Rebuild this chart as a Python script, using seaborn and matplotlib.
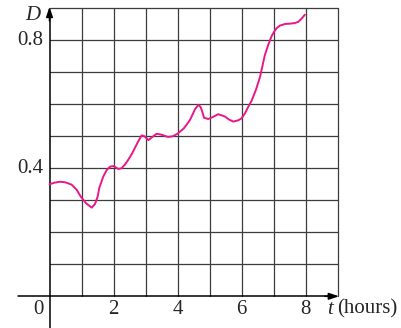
import matplotlib
matplotlib.use("Agg")
import matplotlib.pyplot as plt
import seaborn as sns
import pandas as pd

# data
t_hours = [0, 0.15, 0.33, 0.5, 0.69, 0.85, 0.98, 1.15, 1.32, 1.42, 1.5, 1.56, 1.68,
           1.79, 1.89, 2.0, 2.15, 2.25, 2.36, 2.47, 2.59, 2.75, 2.88, 2.97, 3.09,
           3.2, 3.35, 3.5, 3.7, 3.85, 4.0, 4.2, 4.39, 4.55, 4.65, 4.72, 4.78, 4.83,
           4.96, 5.1, 5.27, 5.48, 5.6, 5.74, 5.9, 6.0, 6.11, 6.21, 6.32, 6.45, 6.58,
           6.73, 6.84, 6.94, 7.04, 7.1, 7.2, 7.36, 7.52, 7.67, 7.78, 7.88, 7.98]
D_values = [0.350, 0.355, 0.358, 0.356, 0.349, 0.333, 0.311, 0.290, 0.277, 0.288,
            0.310, 0.340, 0.374, 0.395, 0.405, 0.407, 0.398, 0.400, 0.412, 0.428,
            0.448, 0.480, 0.503, 0.500, 0.488, 0.497, 0.508, 0.505, 0.498, 0.500,
            0.508, 0.525, 0.551, 0.585, 0.598, 0.592, 0.575, 0.558, 0.554, 0.560,
            0.569, 0.562, 0.553, 0.546, 0.550, 0.556, 0.572, 0.592, 0.612, 0.645,
            0.686, 0.754, 0.787, 0.813, 0.830, 0.838, 0.846, 0.851, 0.852, 0.854,
            0.858, 0.868, 0.880]
x_tick_values = [2, 4, 6, 8]
x_tick_labels = ["2", "4", "6", "8"]
y_tick_values = [0.4, 0.8]
y_tick_labels = ["0.4", "0.8"]
x_grid = [1, 2, 3, 4, 5, 6, 7, 8, 9]
y_grid = [0.1, 0.2, 0.3, 0.4, 0.5, 0.6, 0.7, 0.8, 0.9]

sns.set_style("white")
plt.rcParams['font.family'] = ['Liberation Serif', 'DejaVu Serif']

fig = plt.figure(figsize=(4.01, 3.28), dpi=100)
ax = fig.add_axes([0, 0, 1, 1])
ax.set_xlim((0 - 49.5) / 32, (401 - 49.5) / 32)
ax.set_ylim((296.3 - 328) / 320, 296.3 / 320)
ax.axis("off")

grid_col = "#3c3c3c"
for gx in x_grid:
    ax.plot([gx, gx], [0, 0.9], color=grid_col, lw=0.9, zorder=1)
for gy in y_grid:
    ax.plot([0, 9], [gy, gy], color=grid_col, lw=0.9, zorder=1)

# axes with arrows
ax.plot([-1.0, 8.9], [0, 0], color="black", lw=1.1, zorder=2)
ax.plot([0, 0], [-0.12, 0.89], color="black", lw=1.1, zorder=2)
ax.annotate("", xy=(9.05, 0), xytext=(8.6, 0),
            arrowprops=dict(arrowstyle="-|>,head_length=0.6,head_width=0.2",
                            color="black", lw=1.1, shrinkA=0, shrinkB=0))
ax.annotate("", xy=(0, 0.905), xytext=(0, 0.86),
            arrowprops=dict(arrowstyle="-|>,head_length=0.6,head_width=0.2",
                            color="black", lw=1.1, shrinkA=0, shrinkB=0))

df = pd.DataFrame({"t": t_hours, "D": D_values})
sns.lineplot(data=df, x="t", y="D", ax=ax, color="#E8178A", lw=1.4,
             sort=False, estimator=None, zorder=3,
             solid_joinstyle="round", solid_capstyle="round")
ax.axis("off")

fs = 15
for v, lab in zip(x_tick_values, x_tick_labels):
    ax.text(v, -0.04, lab, ha="center", va="center", fontsize=fs)
for v, lab in zip(y_tick_values, y_tick_labels):
    ax.text(-0.2, v, lab, ha="right", va="center", fontsize=fs)
ax.text(-0.36, -0.04, "0", ha="center", va="center", fontsize=fs)
ax.text(-0.52, 0.878, "D", ha="center", va="center", fontsize=fs, style="italic")
ax.text(8.67, -0.04, "t", ha="left", va="center", fontsize=fs, style="italic")
ax.text(8.98, -0.04, "(hours)", ha="left", va="center", fontsize=fs)

fig.savefig("out.png", dpi=100)
